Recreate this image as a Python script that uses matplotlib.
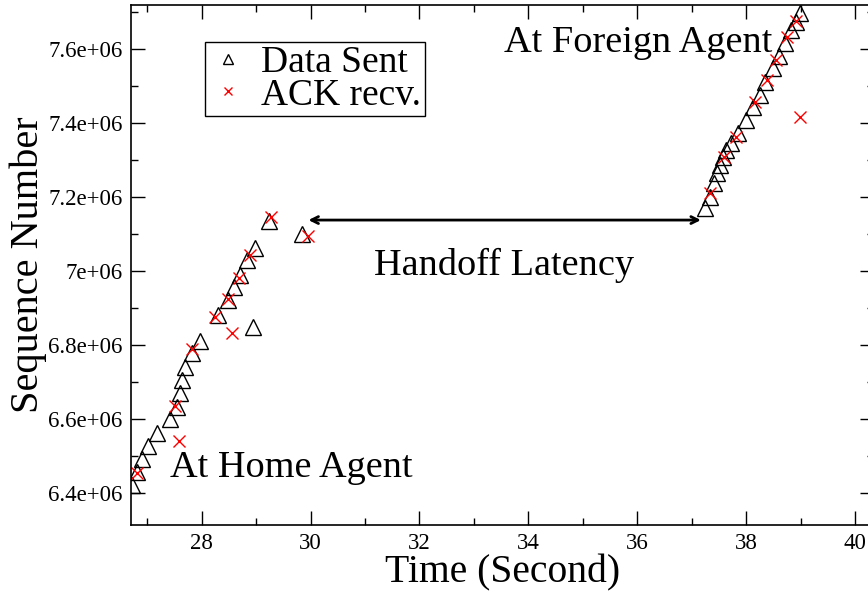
import matplotlib
matplotlib.use("Agg")
import matplotlib.pyplot as plt
from matplotlib.ticker import MultipleLocator, FormatStrFormatter
from matplotlib.lines import Line2D

# Dati (tempo in secondi, numero di sequenza)
sent_t = [26.72, 26.81, 26.91, 27.01, 27.17, 27.42, 27.54, 27.60, 27.64, 27.69,
          27.82, 27.97, 28.29, 28.48, 28.60, 28.70, 28.84, 28.98, 28.95, 29.24, 29.84,
          37.25, 37.33, 37.41, 37.46, 37.52, 37.58, 37.64, 37.73, 37.85, 37.99,
          38.12, 38.26, 38.35, 38.49, 38.61, 38.72, 38.83, 38.91, 38.99]
sent_seq = [6.4224e6, 6.4583e6, 6.4918e6, 6.5277e6, 6.5636e6, 6.5998e6, 6.6339e6, 6.6700e6,
            6.7060e6, 6.7419e6, 6.7781e6, 6.8121e6, 6.8815e6, 6.9220e6, 6.9564e6, 6.9896e6,
            7.0301e6, 7.0617e6, 6.8499e6, 7.1362e6, 7.1003e6,
            7.1697e6, 7.2011e6, 7.2389e6, 7.2643e6, 7.2867e6, 7.3091e6, 7.3272e6, 7.3453e6,
            7.3723e6, 7.4082e6, 7.4442e6, 7.4758e6, 7.5117e6, 7.5479e6, 7.5811e6, 7.6154e6,
            7.6513e6, 7.6737e6, 7.6964e6]

ack_t = [26.81, 27.51, 27.59, 27.82, 28.25, 28.49, 28.55, 28.68, 28.89, 29.27, 29.95,
         37.33, 37.60, 37.82, 38.17, 38.38, 38.55, 38.75, 38.92, 38.99]
ack_seq = [6.4540e6, 6.6357e6, 6.5420e6, 6.7889e6, 6.8769e6, 6.9239e6, 6.8337e6, 6.9823e6,
           7.0436e6, 7.1454e6, 7.0949e6,
           7.2119e6, 7.3091e6, 7.3615e6, 7.4577e6, 7.5163e6, 7.5703e6, 7.6316e6, 7.6764e6,
           7.4155e6]

# Freccia della latenza di handoff
handoff_start = 29.96
handoff_end = 37.17
handoff_seq = 7.138e6

plt.rcParams['font.family'] = ['Liberation Serif', 'DejaVu Serif']

fig = plt.figure(figsize=(8.68, 5.93), dpi=100)
ax = fig.add_axes([131 / 868, 68 / 593, 743 / 868, 520.5 / 593])

ax.plot(sent_t, sent_seq, linestyle='none', marker='^', markersize=11,
        markerfacecolor='none', markeredgecolor='black', markeredgewidth=1.0)
ax.plot(ack_t, ack_seq, linestyle='none', marker='x', markersize=8,
        color='red', markeredgewidth=1.0)

ax.set_xlim(26.70, 40.35)
ax.set_ylim(6.3144e6, 7.7202e6)

ax.xaxis.set_major_locator(MultipleLocator(2))
ax.xaxis.set_minor_locator(MultipleLocator(1))
ax.yaxis.set_major_locator(MultipleLocator(0.2e6))
ax.yaxis.set_minor_locator(MultipleLocator(0.1e6))
ax.yaxis.set_major_formatter(FormatStrFormatter('%g'))

ax.tick_params(which='both', direction='in', top=True, right=True, width=1.0)
ax.tick_params(which='major', length=10, labelsize=16.5, pad=6)
ax.tick_params(which='minor', length=5)
for s in ax.spines.values():
    s.set_linewidth(1.2)

ax.set_xlabel('Time (Second)', fontsize=28.5, labelpad=0)
ax.set_ylabel('Sequence Number', fontsize=29, labelpad=1)

ax.annotate('', xy=(handoff_start, handoff_seq), xytext=(handoff_end, handoff_seq),
            arrowprops=dict(arrowstyle='<->,head_length=0.5,head_width=0.25', lw=2,
                            color='black', shrinkA=0, shrinkB=0))
ax.text(33.55, 6.9896e6, 'Handoff Latency', fontsize=27.5, ha='center', va='baseline')
ax.text(27.42, 6.4448e6, 'At Home Agent', fontsize=27.5, ha='left', va='baseline')
ax.text(33.55, 7.5927e6, 'At Foreign Agent', fontsize=27.5, ha='left', va='baseline')

handles = [
    Line2D([], [], linestyle='none', marker='^', markersize=7, markerfacecolor='none',
           markeredgecolor='black', markeredgewidth=1.0),
    Line2D([], [], linestyle='none', marker='x', markersize=6, color='red',
           markeredgewidth=1.0),
]
leg = ax.legend(handles, ['Data Sent', 'ACK recv.'], loc='upper left',
                bbox_to_anchor=(0.0996, 0.9285), borderaxespad=0, fontsize=27,
                frameon=True, fancybox=False, framealpha=1, edgecolor='black',
                borderpad=0.1, handletextpad=0.4, handlelength=1.0, labelspacing=-0.05)
leg.get_frame().set_linewidth(1.0)

fig.savefig('out.png', dpi=100)
